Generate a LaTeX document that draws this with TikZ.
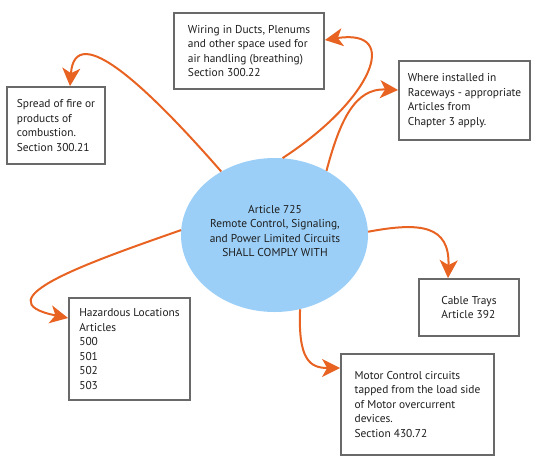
\documentclass[tikz,border=0pt]{standalone}
\usepackage{fontspec}
\setmainfont{PT Sans}
\usetikzlibrary{arrows.meta,shapes.geometric}
\definecolor{arrowc}{RGB}{232,98,34}
\definecolor{boxc}{RGB}{105,105,105}
\definecolor{ellc}{RGB}{155,207,248}
\definecolor{txtc}{RGB}{30,30,30}
\begin{document}
\begin{tikzpicture}[x=1pt,y=-1pt,
  txt/.style={font=\fontsize{11.4}{14.5}\selectfont, text=txtc},
  infobox/.style={txt, draw=boxc, line width=1.8pt, fill=white, align=left, inner sep=0pt},
  conn/.style={draw=arrowc, line width=2pt, -{Stealth[length=18pt,width=18pt,inset=5pt]}}]
\useasboundingbox (0,0) rectangle (537,458);
\node[ellipse, fill=ellc, minimum width=187pt, minimum height=154pt, inner sep=0pt] (ell) at (274.5,235) {};
\node[txt, align=center] (elltxt) at (275,231) {Article 725\\Remote Control, Signaling,\\and Power Limited Circuits\\SHALL COMPLY WITH};
\node[infobox, minimum width=150pt, minimum height=76pt] (wiring) at (249,51) {Wiring in Ducts, Plenums\\and other space used for\\air handling (breathing)\\Section 300.22};
\node[infobox, minimum width=98pt, minimum height=77pt] (spread) at (56,125.5) {Spread of fire or\\products of\\combustion.\\Section 300.21};
\node[infobox, minimum width=131pt, minimum height=79pt] (race) at (464.5,100.5) {Where installed in\\Raceways - appropriate\\Articles from\\Chapter 3 apply.};
\node[infobox, minimum width=121pt, minimum height=102pt] (haz) at (129.5,349) {Hazardous Locations\\Articles\\500\\501\\502\\503};
\node[infobox, minimum width=100pt, minimum height=57pt] (cable) at (469,307.5) {Cable Trays\\Article 392};
\node[infobox, minimum width=153pt, minimum height=101pt] (motor) at (417.5,404.5) {Motor Control circuits\\tapped from the load side\\of Motor overcurrent\\devices.\\Section 430.72};
\draw[conn] (ell.130) .. controls (150,90) and (75,18) .. ([xshift=14pt]spread.north);
\draw[conn] (ell.84) .. controls (372,100) and (402,28) .. ([yshift=11pt]wiring.east);
\draw[conn] (ell.51) .. controls (340,120) and (355,88) .. ([yshift=10.5pt]race.west);
\draw[conn] (ell.177) .. controls (90,262) and (-20,300) .. ([yshift=31pt]haz.west);
\draw[conn] (ell.2) .. controls (420,222) and (450,225) .. ([xshift=-21pt]cable.north);
\draw[conn] (ell.-71) .. controls (298,360) and (310,368) .. ([yshift=36.5pt]motor.west);
\end{tikzpicture}
\end{document}
